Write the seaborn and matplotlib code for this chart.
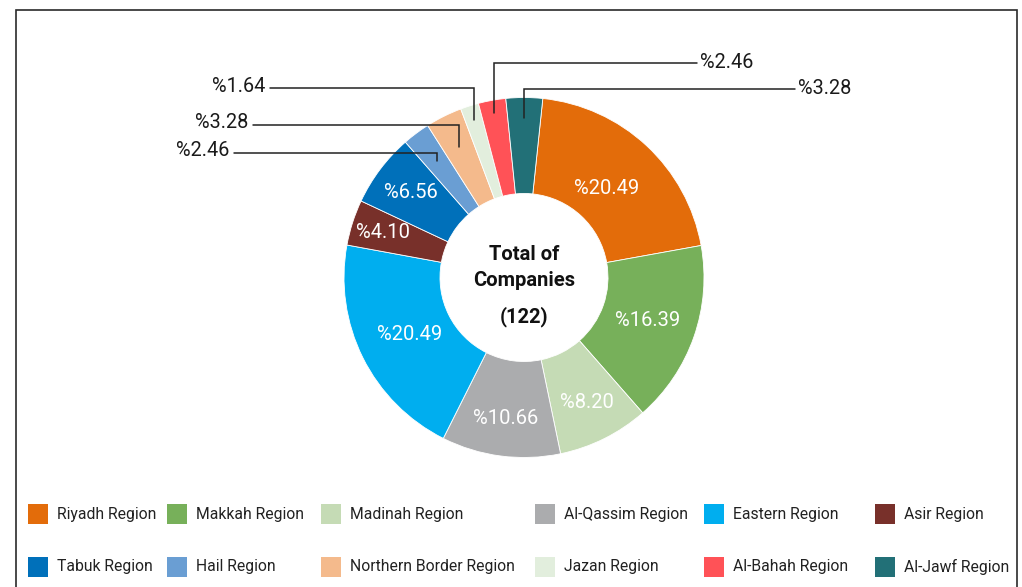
import matplotlib
matplotlib.use("Agg")
import matplotlib.pyplot as plt
import seaborn as sns
import numpy as np
from matplotlib.patches import Rectangle

# Share of companies per region (%), clockwise from the top
regions = ["Riyadh Region", "Makkah Region", "Madinah Region", "Al-Qassim Region",
           "Eastern Region", "Asir Region", "Tabuk Region", "Hail Region",
           "Northern Border Region", "Jazan Region", "Al-Bahah Region", "Al-Jawf Region"]
shares = [20.49, 16.39, 8.20, 10.66, 20.49, 4.10, 6.56, 2.46, 3.28, 1.64, 2.46, 3.28]
colors = ["#E36C0A", "#77B05A", "#C5DBB5", "#ABACAE", "#00AEEF", "#78302A",
          "#0070BA", "#6A9ED3", "#F4BA8C", "#E2EEDD", "#FF5257", "#227077"]
total_companies = 122

sns.set_theme(style="white")
plt.rcParams["font.family"] = ["Roboto", "DejaVu Sans"]
palette = sns.color_palette(colors)

W, H = 1022, 587
fig = plt.figure(figsize=(W / 100, H / 100), dpi=100)
ax = fig.add_axes([0, 0, 1, 1])

cx, cy = 524, H - 277.5
R, hole = 180, 84
wedges, _ = ax.pie(shares, colors=palette, startangle=84, counterclock=False,
                   radius=R, center=(cx, cy),
                   wedgeprops=dict(width=R - hole, edgecolor="white", linewidth=0.6))
ax.set_xlim(0, W)
ax.set_ylim(0, H)
ax.set_aspect("equal")
ax.axis("off")


def label(v):
    return "%" + f"{v:.2f}"


def mid_angle(w):
    return np.deg2rad((w.theta1 + w.theta2) / 2)


# labels inside the ring (radius in pixels per wedge)
inner_r = {"Riyadh Region": 121, "Makkah Region": 131, "Madinah Region": 140,
           "Al-Qassim Region": 142, "Eastern Region": 128, "Asir Region": 148,
           "Tabuk Region": 142}
# leader-line labels: anchor radius, line height (px from top), end of line (px), side
outer = {"Al-Jawf Region": (160, 89, 795, "right"),
         "Al-Bahah Region": (167, 63, 697, "right"),
         "Jazan Region": (165, 88, 270, "left"),
         "Northern Border Region": (146, 125, 253, "left"),
         "Hail Region": (145, 153, 234, "left")}

for name, v, w in zip(regions, shares, wedges):
    a = mid_angle(w)
    if name in inner_r:
        r = inner_r[name]
        ax.text(cx + r * np.cos(a), cy + r * np.sin(a), label(v), color="white",
                fontsize=14.5, ha="center", va="center")
    else:
        r, ly, lx, side = outer[name]
        x0, y0 = cx + r * np.cos(a), cy + r * np.sin(a)
        y1 = H - ly
        ax.plot([x0, x0, lx], [y0, y1, y1], color="#222222", lw=1.1,
                solid_joinstyle="miter")
        if side == "right":
            ax.text(lx + 3, y1 + 1, label(v), fontsize=14.3, color="#1a1a1a",
                    ha="left", va="center")
        else:
            ax.text(lx - 5, y1 + 2, label(v), fontsize=14.3, color="#1a1a1a",
                    ha="right", va="center")

# centre caption
ax.text(cx, H - 254, "Total of", fontsize=14.5, fontweight="bold", color="#111111",
        ha="center", va="center")
ax.text(cx, H - 280, "Companies", fontsize=14.5, fontweight="bold", color="#111111",
        ha="center", va="center")
ax.text(cx, H - 317, f"({total_companies})", fontsize=14.5, fontweight="bold",
        color="#111111", ha="center", va="center")

# legend: two rows of six entries
col_x = [28, 167, 321, 535, 704, 875]
row_y = [514, 567]
for i, (name, c) in enumerate(zip(regions, palette)):
    x = col_x[i % 6]
    y = H - row_y[i // 6]
    ax.add_patch(Rectangle((x, y - 10), 20, 20, facecolor=c, edgecolor="none"))
    ax.text(x + 29, y, name, fontsize=11.3, color="#222222", ha="left", va="center")

# outer frame (open at the bottom)
ax.plot([16, 16, 1017, 1017], [0, H - 9.5, H - 9.5, 0], color="#2a2a2a", lw=1.2,
        solid_joinstyle="miter")

fig.savefig("out.png", dpi=100, facecolor="white")
